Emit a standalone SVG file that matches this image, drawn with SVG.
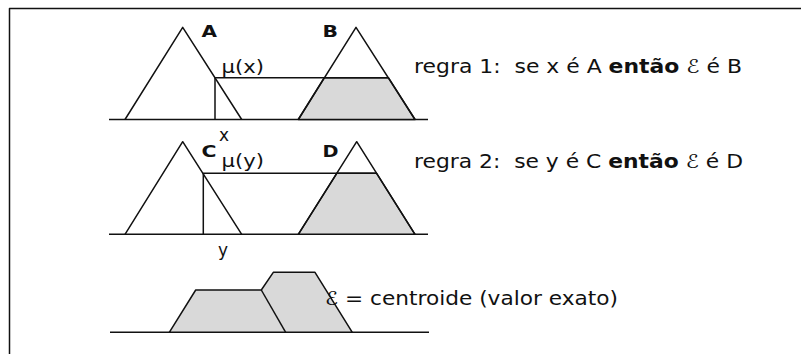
<svg xmlns="http://www.w3.org/2000/svg" width="801" height="354" viewBox="0 0 801 354">
<style>
.ln{stroke:#111;stroke-width:1.5;fill:none;stroke-linejoin:round}
.sh{stroke:#111;stroke-width:1.5;fill:#d9d9d9;stroke-linejoin:round}
.t{font-family:"DejaVu Sans",sans-serif;fill:#111;white-space:pre}
.lab{font-family:"DejaVu Sans",sans-serif;font-weight:bold;font-size:15px;fill:#111}
.r{font-size:19px}
.m{font-size:17px}
.e{font-family:"DejaVu Sans","Noto Sans",sans-serif;font-style:italic}
</style>
<rect width="801" height="354" fill="#fff"/>
<g id="frame"><path class="ln" d="M9.5,354 V8.5 H801" stroke-width="2"/></g>

<g id="row1">
<line class="ln" x1="109" y1="119.5" x2="428" y2="119.5"/>
<g id="A"><path class="ln" d="M125,119.5 L182.7,27.3 L241.7,119.5"/><text class="lab" x="201.5" y="37" textLength="15.5" lengthAdjust="spacingAndGlyphs">A</text></g>
<g id="B"><path class="sh" d="M298.3,119.5 L324.3,77.7 L388.4,77.7 L415,119.5 Z"/><path class="ln" d="M298.3,119.5 L356,27.3 L415,119.5"/><text class="lab" x="322.5" y="37" textLength="15.5" lengthAdjust="spacingAndGlyphs">B</text></g>
<path class="ln" d="M215,119.5 V77.7 H388.4"/>
<text class="t m" x="221.5" y="73" textLength="42.5" lengthAdjust="spacingAndGlyphs">μ(x)</text>
<text class="t m" x="219" y="141">x</text>
<text class="t r" x="414" y="73" textLength="328" lengthAdjust="spacingAndGlyphs" xml:space="preserve">regra 1:  se x é A <tspan font-weight="bold">então</tspan> <tspan class="e">ℰ</tspan> é B</text>
</g>

<g id="row2">
<line class="ln" x1="109" y1="234.3" x2="428" y2="234.3"/>
<g id="C"><path class="ln" d="M125,234.3 L182.7,141.7 L241.7,234.3"/><text class="lab" x="201.5" y="157" textLength="15" lengthAdjust="spacingAndGlyphs">C</text></g>
<g id="D"><path class="sh" d="M298.3,234.3 L336.8,173.3 L376.6,173.3 L415,234.3 Z"/><path class="ln" d="M298.3,234.3 L356.7,141.7 L415,234.3"/><text class="lab" x="322.5" y="157" textLength="16" lengthAdjust="spacingAndGlyphs">D</text></g>
<path class="ln" d="M203.3,234.3 V173.3 H376.6"/>
<text class="t m" x="221.5" y="167" textLength="42.5" lengthAdjust="spacingAndGlyphs">μ(y)</text>
<text class="t m" x="218" y="256">y</text>
<text class="t r" x="414" y="168" textLength="329" lengthAdjust="spacingAndGlyphs" xml:space="preserve">regra 2:  se y é C <tspan font-weight="bold">então</tspan> <tspan class="e">ℰ</tspan> é D</text>
</g>

<g id="row3">
<line class="ln" x1="110" y1="332.3" x2="429" y2="332.3"/>
<path class="sh" d="M169.3,332.3 L195.7,290 L261.3,290 L273.3,272.3 L315,272.3 L352.3,332.3 Z"/>
<line class="ln" x1="261.3" y1="290" x2="285.7" y2="332.3"/>
<text class="t r" x="325" y="305" textLength="293" lengthAdjust="spacingAndGlyphs"><tspan class="e">ℰ</tspan> = centroide (valor exato)</text>
</g>
</svg>
